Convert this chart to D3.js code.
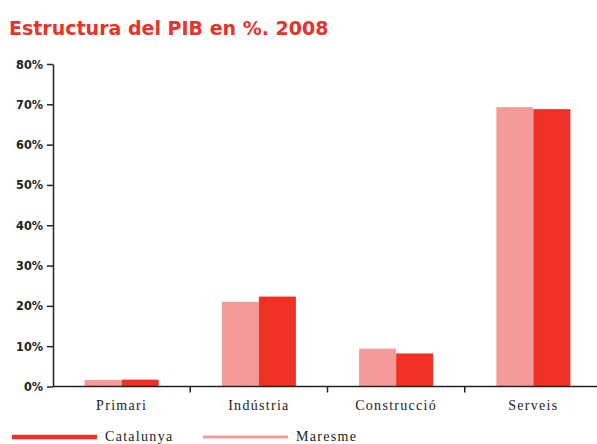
<!DOCTYPE html>
<html><head><meta charset="utf-8">
<script src="https://cdn.jsdelivr.net/npm/d3@7"></script>
<style>body{margin:0;background:#fff}svg{display:block}</style>
</head><body>
<svg id="c" width="597" height="444"></svg>
<script>
const title = "Estructura del PIB en %. 2008";
const categories = ["Primari", "Indústria", "Construcció", "Serveis"];
const seriesNames = ["Maresme", "Catalunya"];
const maresme = [1.6, 21.0, 9.4, 69.3];
const catalunya = [1.7, 22.3, 8.2, 68.8];
const yTicks = [0, 10, 20, 30, 40, 50, 60, 70, 80];
const colors = {Maresme: "#f39b98", Catalunya: "#ee3124"};

const svg = d3.select("#c");
const x0 = 53, xEnd = 597, y0 = 386.5, yTop = 64;
const x = d3.scaleBand().domain(categories).range([53, 602]).paddingInner(0).paddingOuter(0);
const xs = d3.scaleBand().domain(seriesNames).range([0, 74]);
const y = d3.scaleLinear().domain([0, 80]).range([y0, yTop]);

svg.append("text").attr("x", 9).attr("y", 35).text(title)
  .attr("fill", "#e8322a").attr("font-family", "DejaVu Sans").attr("font-weight", "bold")
  .attr("font-size", 19);

const data = {Maresme: maresme, Catalunya: catalunya};
seriesNames.forEach(s => {
  svg.append("g").selectAll("rect").data(categories).join("rect")
    .attr("x", c => x(c) + x.bandwidth()/2 - 37 + xs(s))
    .attr("width", xs.bandwidth())
    .attr("y", (c,i) => y(data[s][i]))
    .attr("height", (c,i) => y0 - y(data[s][i]))
    .attr("fill", colors[s]);
});

// y axis
const ya = svg.append("g").attr("transform", `translate(${x0},0)`)
  .call(d3.axisLeft(y).tickValues(yTicks).tickFormat(d => d + "%").tickSize(6).tickSizeOuter(0));
ya.select(".domain").attr("stroke", "#222").attr("stroke-width", 1.5);
ya.selectAll(".tick line").attr("stroke", "#222").attr("stroke-width", 1.5);
ya.selectAll("text").attr("font-family", "DejaVu Sans Condensed").attr("font-weight", "bold")
  .attr("font-size", 12.5).attr("fill", "#222").attr("x", -10);

// x axis
const xa = svg.append("g").attr("transform", `translate(0,${y0})`);
xa.append("line").attr("x1", x0).attr("x2", xEnd).attr("y1", 0).attr("y2", 0)
  .attr("stroke", "#222").attr("stroke-width", 1.5);
xa.selectAll("line.t").data(categories.slice(1)).join("line").attr("class", "t")
  .attr("x1", c => x(c)).attr("x2", c => x(c)).attr("y1", 0).attr("y2", 6)
  .attr("stroke", "#222").attr("stroke-width", 1.5);
xa.selectAll("text").data(categories).join("text")
  .attr("x", c => x(c) + x.bandwidth()/2).attr("y", 23).attr("text-anchor", "middle")
  .attr("font-family", "Liberation Serif").attr("font-size", 14).attr("letter-spacing", 1.3)
  .attr("fill", "#222").text(c => c);

// legend
const leg = [{name: "Catalunya", x: 12, w: 4.5}, {name: "Maresme", x: 203, w: 3}];
leg.forEach(l => {
  svg.append("line").attr("x1", l.x).attr("x2", l.x + 85).attr("y1", 437).attr("y2", 437)
    .attr("stroke", colors[l.name]).attr("stroke-width", l.w);
  svg.append("text").attr("x", l.x + 93).attr("y", 441).text(l.name)
    .attr("font-family", "Liberation Serif").attr("font-size", 14).attr("letter-spacing", 1.3)
    .attr("fill", "#222");
});
</script>
</body></html>
